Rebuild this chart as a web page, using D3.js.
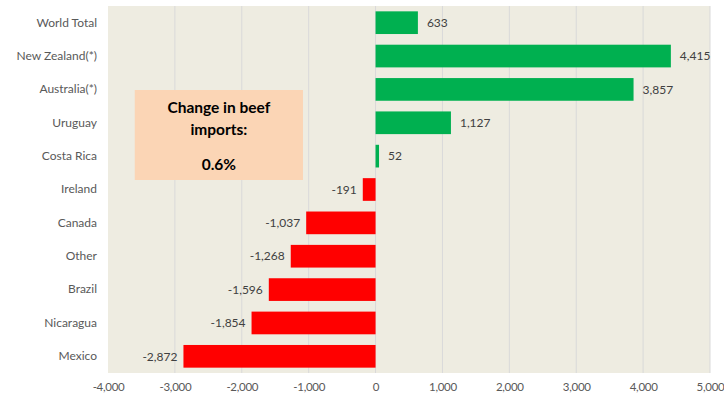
<!DOCTYPE html>
<html>
<head>
<meta charset="utf-8">
<script src="https://cdn.jsdelivr.net/npm/d3@7"></script>
<style>
  html, body { margin: 0; padding: 0; background: #fff; }
  svg { display: block; font-family: Lato, "Open Sans", sans-serif; }
</style>
</head>
<body>
<svg id="chart" width="724" height="402"></svg>
<script>
// categories top to bottom and change in beef imports
var countries = ["World Total", "New Zealand(*)", "Australia(*)", "Uruguay", "Costa Rica",
  "Ireland", "Canada", "Other", "Brazil", "Nicaragua", "Mexico"];
var changes = [633, 4415, 3857, 1127, 52, -191, -1037, -1268, -1596, -1854, -2872];
var xTicks = [-4000, -3000, -2000, -1000, 0, 1000, 2000, 3000, 4000, 5000];
var noteLines = ["Change in beef", "imports:", "0.6%"];

var svg = d3.select("#chart");
var margin = {top: 6, right: 14, bottom: 29, left: 108},
  width = 724 - margin.left - margin.right,
  height = 402 - margin.top - margin.bottom;

var g = svg.append("g")
  .attr("transform", "translate(" + margin.left + "," + margin.top + ")");

var x = d3.scaleLinear().domain([-4000, 5000]).range([0, width]);
var y = d3.scaleBand().domain(countries).range([0, height]).paddingInner(0.32).paddingOuter(0.16);

// plot background
g.append("rect")
  .attr("width", width)
  .attr("height", height)
  .attr("fill", "#eeece1");

// vertical grid
g.append("g")
  .selectAll("line")
  .data(xTicks.slice(1))
  .join("line")
  .attr("x1", function(d) { return x(d); })
  .attr("x2", function(d) { return x(d); })
  .attr("y1", 0)
  .attr("y2", height)
  .attr("stroke", "#d9d9d9")
  .attr("stroke-width", 1);

// annotation box
var note = g.append("g");
note.append("rect")
  .attr("x", x(-3600))
  .attr("y", 84)
  .attr("width", x(-1085) - x(-3600))
  .attr("height", 90)
  .attr("fill", "#fbd5b5");
note.selectAll("text")
  .data(noteLines)
  .join("text")
  .attr("x", (x(-3600) + x(-1085)) / 2)
  .attr("y", function(d, i) { return [107, 129, 164][i]; })
  .attr("text-anchor", "middle")
  .attr("font-size", 15.5)
  .attr("font-weight", "bold")
  .attr("fill", "#000")
  .text(function(d) { return d; });

// bars
g.append("g")
  .selectAll("rect")
  .data(changes)
  .join("rect")
  .attr("x", function(d) { return x(Math.min(0, d)); })
  .attr("y", function(d, i) { return y(countries[i]); })
  .attr("width", function(d) { return Math.abs(x(d) - x(0)); })
  .attr("height", y.bandwidth())
  .attr("fill", function(d) { return d >= 0 ? "#00b050" : "#ff0000"; });

// value labels
var fmt = d3.format(",");
g.append("g")
  .selectAll("text")
  .data(changes)
  .join("text")
  .attr("x", function(d) { return d >= 0 ? x(d) + 9 : x(d) - 6; })
  .attr("y", function(d, i) { return y(countries[i]) + y.bandwidth() / 2; })
  .attr("dy", "0.35em")
  .attr("text-anchor", function(d) { return d >= 0 ? "start" : "end"; })
  .attr("font-size", 12)
  .attr("fill", "#404040")
  .text(function(d) { return fmt(d).replace("−", "-"); });

// category labels
var yAxis = g.append("g")
  .call(d3.axisLeft(y).tickSize(0).tickPadding(11));
yAxis.select(".domain").remove();
yAxis.selectAll("text")
  .attr("font-size", 12)
  .attr("font-family", "Lato, 'Open Sans', sans-serif")
  .attr("fill", "#595959");

// x axis labels
var xAxis = g.append("g")
  .attr("transform", "translate(0," + height + ")")
  .call(d3.axisBottom(x).tickValues(xTicks).tickSize(0).tickPadding(10)
    .tickFormat(function(d) { return fmt(d).replace("−", "-"); }));
xAxis.select(".domain").remove();
xAxis.selectAll("text")
  .attr("font-size", 11.5)
  .attr("letter-spacing", "-0.3px")
  .attr("font-family", "Lato, 'Open Sans', sans-serif")
  .attr("fill", "#595959");
</script>
</body>
</html>
